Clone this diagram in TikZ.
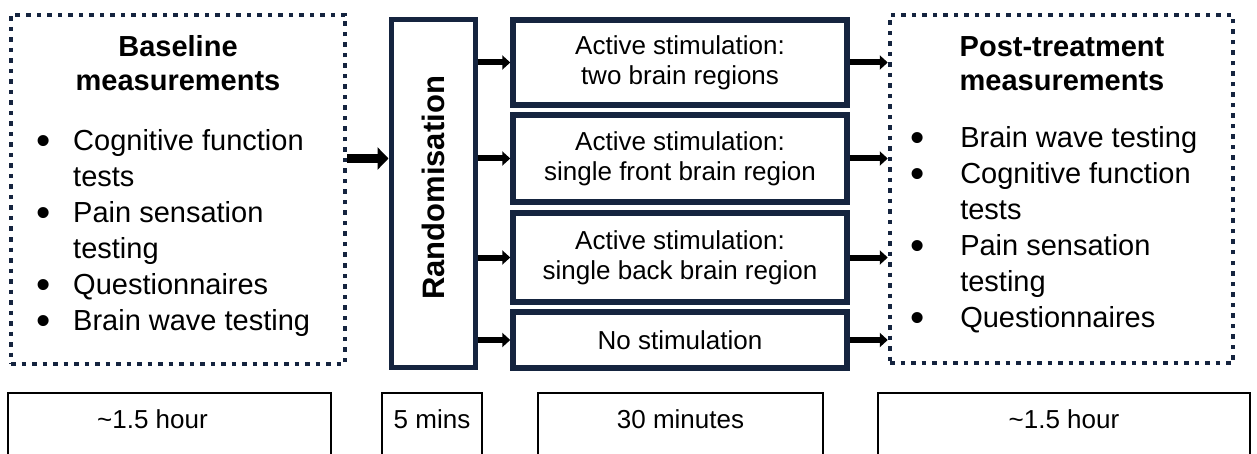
\documentclass[tikz,border=0pt]{standalone}
\usepackage{fontspec}
\usepackage{graphicx}
\setmainfont{Liberation Sans}
\usetikzlibrary{arrows.meta,positioning}

\definecolor{navy}{HTML}{15243F}

% bullet and hanging indent for the measurement lists
\newcommand{\bul}[1][37pt]{\makebox[#1][l]{\smash{\raisebox{-0.14em}{\scalebox{1.4}{\textbullet}}}}}
\newcommand{\cont}[1][37pt]{\hspace*{#1}}

\tikzset{
  dotbox/.style={draw=navy, line width=4.5pt, dash pattern=on 4.5pt off 6pt},
  stimbox/.style={draw=navy, line width=5.5pt, minimum width=334pt, align=center,
    font=\fontsize{26}{30}\selectfont},
  timebox/.style={draw=black, line width=2.5pt, minimum height=77pt},
  timetext/.style={font=\fontsize{26}{30}\selectfont},
  heading/.style={font=\fontsize{29}{34}\selectfont\bfseries, align=center},
  bullets/.style={font=\fontsize{29}{36}\selectfont, align=left, anchor=north west, inner sep=0pt},
  thinarrow/.style={line width=6pt, -{Triangle[length=8pt,width=14pt]}},
  thickarrow/.style={line width=9pt, -{Triangle[length=11pt,width=22pt]}},
}

\begin{document}
\begin{tikzpicture}[x=1pt, y=-1pt]
    \useasboundingbox (0,0) rectangle (1257,454);

    % Baseline block
    \node[dotbox, minimum width=334pt, minimum height=349pt] (base) at (178,189.5) {};
    \node[heading] (basetitle) at (178,63.5) {Baseline\\measurements};
    \node[bullets] (baselist) at (36,129) {%
      \bul Cognitive function\\ \cont tests\\
      \bul Pain sensation\\ \cont testing\\
      \bul Questionnaires\\
      \bul Brain wave testing};

    % Randomisation
    \node[draw=navy, line width=5pt, minimum width=84pt, minimum height=347pt] (rand) at (433,193.5) {};
    \node[rotate=90, font=\fontsize{31}{34}\selectfont\bfseries] (randtext) at (433,188) {Randomisation};

    % Four arms
    \node[stimbox, minimum height=85pt] (s1) at (680,62.5) {Active stimulation:\\two brain regions};
    \node[stimbox, minimum height=87pt] (s2) at (680,158.5) {Active stimulation:\\single front brain region};
    \node[stimbox, minimum height=89pt] (s3) at (680,257.5) {Active stimulation:\\single back brain region};
    \node[stimbox, minimum height=56pt] (s4) at (680,340) {No stimulation};

    % Post-treatment block
    \node[dotbox, minimum width=343pt, minimum height=348pt] (post) at (1061.5,189) {};
    \node[heading] (posttitle) at (1062,64) {Post-treatment\\measurements};
    \node[bullets] (postlist) at (910,126) {%
      \bul[42pt] Brain wave testing\\
      \bul[42pt] Cognitive function\\ \cont[42pt] tests\\
      \bul[42pt] Pain sensation\\ \cont[42pt] testing\\
      \bul[42pt] Questionnaires};

    % Arrows
    \draw[thickarrow] (base.east |- s2) -- (rand.west |- s2);
    \foreach \s in {s1,s2,s3,s4} {
        \draw[thinarrow] (rand.east |- \s) -- (\s.west);
        \draw[thinarrow] (\s.east) -- (post.west |- \s);
    }

    % Time line
    \node[timebox, minimum width=323pt] (t1) at (169.5,431.5) {};
    \node[timebox, minimum width=100pt] (t2) at (432,431.5) {};
    \node[timebox, minimum width=285pt] (t3) at (680.5,431.5) {};
    \node[timebox, minimum width=372pt] (t4) at (1064,431.5) {};
    \node[timetext, below=14pt of t1.north, xshift=-17pt] (t1text) {\textasciitilde1.5 hour};
    \node[timetext, below=14pt of t2.north] (t2text) {5 mins};
    \node[timetext, below=14pt of t3.north] (t3text) {30 minutes};
    \node[timetext, below=14pt of t4.north] (t4text) {\textasciitilde1.5 hour};
\end{tikzpicture}
\end{document}
